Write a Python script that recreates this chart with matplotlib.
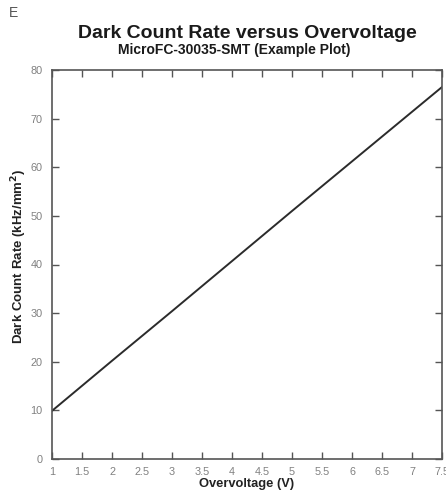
import numpy as np
import matplotlib.pyplot as plt

plt.rcParams['font.family'] = ['Liberation Sans', 'DejaVu Sans']

# Dark count rate vs overvoltage
overvoltage = [1.0, 2.0, 3.0, 4.0, 5.0, 6.0, 7.0, 7.5]
dark_rate = [9.9, 20.2, 30.4, 40.7, 51.0, 61.2, 71.4, 76.5]

x_ticks = [1, 1.5, 2, 2.5, 3, 3.5, 4, 4.5, 5, 5.5, 6, 6.5, 7, 7.5]
x_ticklabels = ['1', '1.5', '2', '2.5', '3', '3.5', '4', '4.5', '5', '5.5', '6', '6.5', '7', '7.5']
y_ticks = [0, 10, 20, 30, 40, 50, 60, 70, 80]

fig = plt.figure(figsize=(4.46, 4.92), dpi=100)
ax = fig.add_axes([52 / 446, 33 / 492, 390 / 446, 389 / 492])

ax.plot(overvoltage, dark_rate, color='#2b2b2b', lw=1.4)

ax.set_xlim(1, 7.5)
ax.set_ylim(0, 80)
ax.set_xticks(x_ticks)
ax.set_xticklabels(x_ticklabels)
ax.set_yticks(y_ticks)
ax.tick_params(direction='in', top=True, right=True, length=5, width=1,
               colors='#555555', labelsize=7.8, labelcolor='#808080')
ax.tick_params(axis='x', pad=6)
ax.tick_params(axis='y', pad=7)
for s in ax.spines.values():
    s.set_color('#555555')
    s.set_linewidth(1.2)

ax.set_xlabel('Overvoltage (V)', fontsize=9.3, fontweight='bold', color='#222222')
ax.xaxis.set_label_coords(0.5, -0.05)
ax.set_ylabel('Dark Count Rate (kHz/mm$^\\mathbf{2}$)', fontsize=9.5, fontweight='bold',
              color='#222222')
ax.yaxis.set_label_coords(-0.058, 0.52)

fig.text(0.555, 0.931, 'Dark Count Rate versus Overvoltage', ha='center', va='center',
         fontsize=14, fontweight='bold', color='#1a1a1a')
fig.text(0.526, 0.899, 'MicroFC-30035-SMT (Example Plot)', ha='center', va='center',
         fontsize=10, fontweight='bold', color='#1a1a1a')
fig.text(0.02, 0.973, 'E', ha='left', va='center', fontsize=10, color='#555555')

fig.savefig('out.png', dpi=100)
